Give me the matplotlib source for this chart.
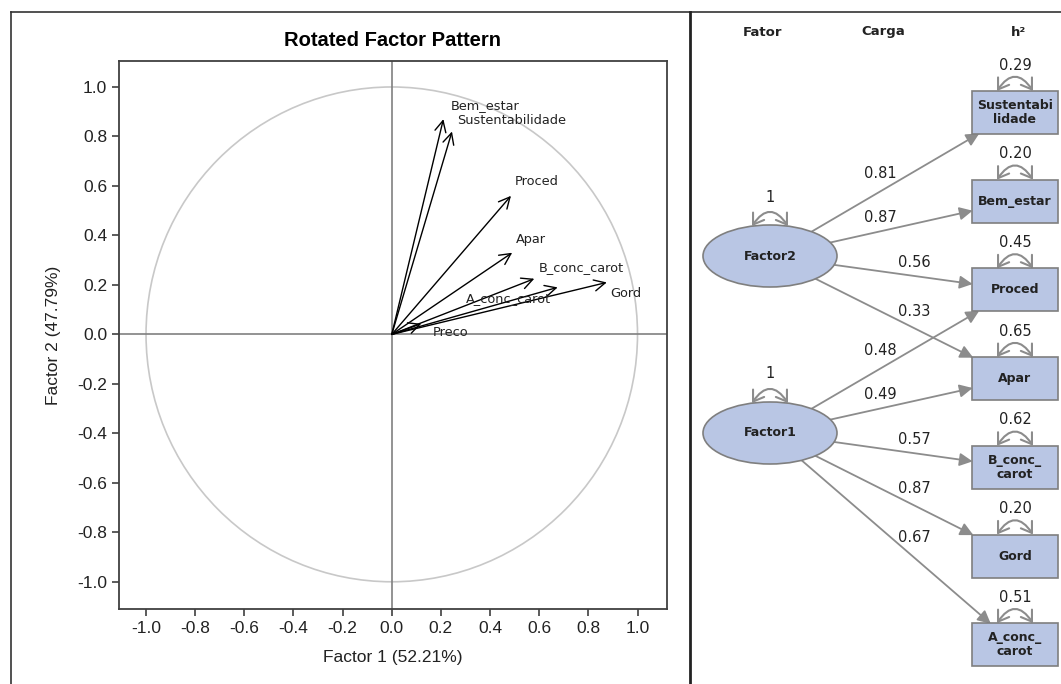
"""
Rotated factor pattern plot next to a path diagram of the loadings.
"""
import numpy as np
import matplotlib
matplotlib.use("Agg")
import matplotlib.pyplot as plt
from matplotlib.patches import Ellipse, Rectangle, FancyArrowPatch, Circle
from matplotlib.lines import Line2D

# factor pattern (rotated loadings)
variables = ['Sustentabilidade', 'Bem_estar', 'Proced', 'Apar',
             'B_conc_carot', 'Gord', 'A_conc_carot', 'Preco']
factor1 = [0.245, 0.21, 0.485, 0.49, 0.58, 0.875, 0.675, 0.12]
factor2 = [0.82, 0.87, 0.56, 0.33, 0.225, 0.21, 0.19, 0.043]
ticks = [-1.0, -0.8, -0.6, -0.4, -0.2, 0.0, 0.2, 0.4, 0.6, 0.8, 1.0]

# path diagram
box_labels = ['Sustentabi\nlidade', 'Bem_estar', 'Proced', 'Apar',
              'B_conc_\ncarot', 'Gord', 'A_conc_\ncarot']
h2 = ['0.29', '0.20', '0.45', '0.65', '0.62', '0.20', '0.51']
factor_names = ['Factor2', 'Factor1']
# (factor index, box index, loading)
paths = [(0, 0, '0.81'), (0, 1, '0.87'), (0, 2, '0.56'), (0, 3, '0.33'),
         (1, 2, '0.48'), (1, 3, '0.49'), (1, 4, '0.57'), (1, 5, '0.87'),
         (1, 6, '0.67')]

# label placement around arrow tips (layout only)
label_offsets = {
    'Sustentabilidade': (0.02, 0.045, 'left'),
    'Bem_estar': (0.03, 0.055, 'left'),
    'Proced': (0.015, 0.057, 'left'),
    'Apar': (0.016, 0.054, 'left'),
    'B_conc_carot': (0.02, 0.045, 'left'),
    'Gord': (0.015, -0.046, 'left'),
    'A_conc_carot': (-0.025, -0.046, 'right'),
    'Preco': (0.047, -0.036, 'left'),
}

W, H = 1061, 684
fig = plt.figure(figsize=(W / 100, H / 100), dpi=100)

# ---- left panel --------------------------------------------------------
ax = fig.add_axes([119 / W, 1 - 609 / H, 548 / W, 548 / H])
ax.set_xlim(-1.11, 1.12)
ax.set_ylim(-1.11, 1.105)
ax.add_patch(Circle((0, 0), 1.0, fill=False, ec='#c8c8c8', lw=1.2))
ax.axhline(0, color='#808080', lw=1.2)
ax.axvline(0, color='#808080', lw=1.2)

for name, x, y in zip(variables, factor1, factor2):
    ax.annotate('', xy=(x, y), xytext=(0, 0),
                arrowprops=dict(arrowstyle='->', color='black', lw=1.0,
                                shrinkA=0, shrinkB=0, mutation_scale=20))
    dx, dy, ha = label_offsets[name]
    ax.text(x + dx, y + dy, name, ha=ha, va='center', fontsize=9.3,
            family='DejaVu Sans', color='#222222')

ax.set_xticks(ticks)
ax.set_yticks(ticks)
ax.set_xticklabels(['%.1f' % t for t in ticks])
ax.set_yticklabels(['%.1f' % t for t in ticks])
ax.tick_params(direction='out', length=5, width=1.2, colors='#404040',
               labelsize=12.5, labelcolor='#222222')
for lab in ax.get_xticklabels() + ax.get_yticklabels():
    lab.set_family('Liberation Sans')
for s in ax.spines.values():
    s.set_color('#404040')
    s.set_linewidth(1.3)
ax.set_xlabel('Factor 1 (52.21%)', fontsize=12.5, family='Liberation Sans',
              color='#222222', labelpad=10)
ax.set_ylabel('Factor 2 (47.79%)', fontsize=12.5, family='Liberation Sans',
              color='#222222', labelpad=12)
fig.text(393 / W, 1 - 40 / H, 'Rotated Factor Pattern', ha='center',
         va='center', fontsize=14.5, fontweight='bold',
         family='Liberation Sans')

# ---- right panel -------------------------------------------------------
rx = fig.add_axes([690 / W, 0, 371 / W, 672 / H])
rx.set_xlim(690, 1061)
rx.set_ylim(684, 12)
rx.axis('off')

fill = '#b9c6e4'
edge = '#7f7f7f'
line_c = '#8c8c8c'
loop_style = '<->,head_length=0.45,head_width=0.3'


def add_loop(x_mid, y, half):
    rx.add_patch(FancyArrowPatch((x_mid - half, y), (x_mid + half, y),
                                 connectionstyle='arc3,rad=-0.75',
                                 arrowstyle=loop_style,
                                 mutation_scale=16, color=line_c, lw=1.5,
                                 shrinkA=0, shrinkB=0, zorder=2))


for txt, x in zip(['Fator', 'Carga', 'h²'], [762, 883, 1018]):
    rx.text(x, 32, txt, ha='center', va='center', fontsize=9.5,
            fontweight='bold', family='DejaVu Sans', color='#222222')

ell_cx = 770
ell_cy = [256, 433]
ell_w, ell_h = 134, 62
ellipses = []
for name, cy in zip(factor_names, ell_cy):
    e = Ellipse((ell_cx, cy), ell_w, ell_h, fc=fill, ec=edge, lw=1.2, zorder=3)
    rx.add_patch(e)
    ellipses.append(e)
    rx.text(ell_cx, cy, name, ha='center', va='center', fontsize=9,
            fontweight='bold', family='DejaVu Sans', color='#222222', zorder=4)
    top = cy - ell_h / 2 * np.sqrt(1 - (18 / (ell_w / 2)) ** 2)
    add_loop(ell_cx, top, 18)
    rx.text(ell_cx, cy - 59, '1', ha='center', va='center', fontsize=10.5,
            family='DejaVu Sans', color='#222222')

box_x, box_w, box_h = 972, 86, 43
box_top0, box_step = 91, 88.7
box_cx = box_x + box_w / 2
boxes = []
box_cy = []
for i, (lab, val) in enumerate(zip(box_labels, h2)):
    top = box_top0 + box_step * i
    b = Rectangle((box_x, top), box_w, box_h, fc=fill, ec=edge, lw=1.2, zorder=3)
    rx.add_patch(b)
    boxes.append(b)
    box_cy.append(top + box_h / 2)
    rx.text(box_cx, top + box_h / 2, lab, ha='center', va='center',
            fontsize=9, fontweight='bold', family='DejaVu Sans',
            color='#222222', linespacing=1.1, zorder=4)
    add_loop(box_cx, top, 18)
    rx.text(box_cx, top - 26, val, ha='center', va='center', fontsize=10.5,
            family='DejaVu Sans', color='#222222')

for f, b, load in paths:
    x0, y0 = ell_cx, ell_cy[f]
    x1, y1 = box_cx, box_cy[b]
    rx.add_patch(FancyArrowPatch((x0, y0), (x1, y1),
                                 patchA=ellipses[f], patchB=boxes[b],
                                 arrowstyle='-|>,head_length=0.6,head_width=0.3',
                                 mutation_scale=13, color=line_c, lw=1.3,
                                 shrinkA=0, shrinkB=0, zorder=2))
    slope = (y1 - y0) / (x1 - x0)
    frac = 0.45 if y1 < y0 else 0.59
    lx = x0 + frac * (x1 - x0)
    ly = y0 + frac * (y1 - y0) - (12 + 10 * abs(slope))
    rx.text(lx, ly, load, ha='center', va='center', fontsize=10.5,
            family='DejaVu Sans', color='#222222')

# ---- outer frames ------------------------------------------------------
fy = 1 - 12 / H
fig.add_artist(Line2D([11 / W, 1], [fy, fy], color='#333333', lw=1.2))
fig.add_artist(Line2D([11 / W, 11 / W], [0, fy], color='#333333', lw=1.2))
fig.add_artist(Line2D([690 / W, 690 / W], [0, fy], color='#222222', lw=2.0))

fig.savefig('out.png', dpi=100)
